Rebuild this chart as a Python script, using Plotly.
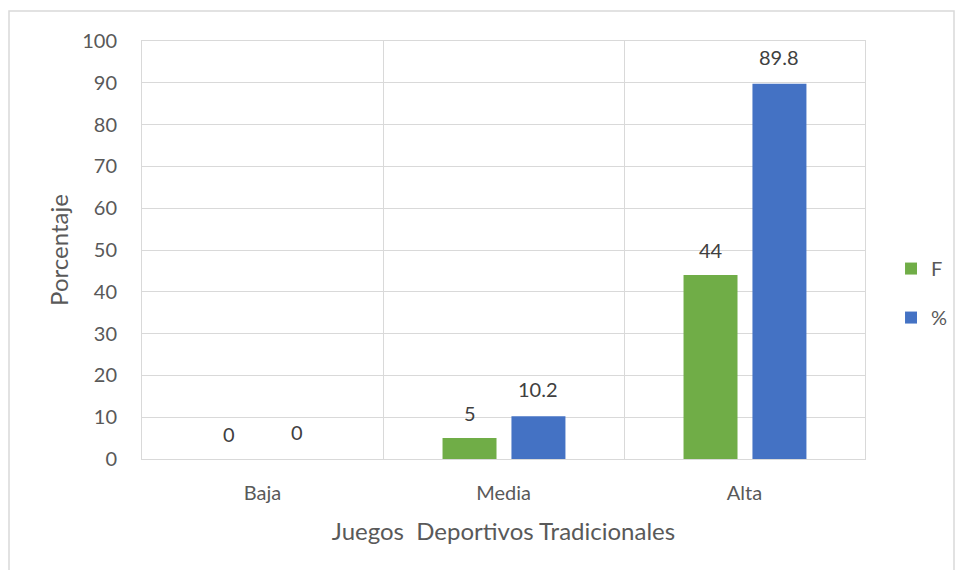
import plotly.graph_objects as go

categories = ["Baja", "Media", "Alta"]
f_values = [0, 5, 44]
pct_values = [0, 10.2, 89.8]
f_labels = ["0", "5", "44"]
pct_labels = ["0", "10.2", "89.8"]
y_ticks = list(range(0, 101, 10))

GREEN = "#70AD47"
BLUE = "#4472C4"
GRID = "#D9D9D9"
FONT = "Lato, 'Open Sans', sans-serif"

fig = go.Figure()
fig.add_trace(go.Bar(x=categories, y=f_values, name="F", marker_color=GREEN,
                     marker_line_width=0,
                     width=0.224, offset=-0.253, legendgroup="F"))
fig.add_trace(go.Bar(x=categories, y=pct_values, name="%", marker_color=BLUE,
                     marker_line_width=0,
                     width=0.224, offset=0.033, legendgroup="P"))

annotations = []
for i, c in enumerate(categories):
    annotations.append(dict(x=i - 0.253 + 0.112, y=f_values[i], xref="x", yref="y",
                            text=f_labels[i], showarrow=False, yanchor="middle",
                            yshift=25, font=dict(size=20, color="#404040", family=FONT)))
    annotations.append(dict(x=i + 0.033 + 0.112, y=pct_values[i], xref="x", yref="y",
                            text=pct_labels[i], showarrow=False, yanchor="middle",
                            yshift=27, font=dict(size=20, color="#404040", family=FONT)))

fig.update_layout(
    width=957, height=570,
    margin=dict(l=142, r=92, t=41, b=111, autoexpand=False),
    paper_bgcolor="white", plot_bgcolor="white",
    barmode="overlay",
    font=dict(family=FONT, color="#595959", size=20),
    showlegend=True,
    legend=dict(x=1.036, y=0.397, xanchor="left", yanchor="middle",
                font=dict(size=20, color="#595959", family=FONT),
                tracegroupgap=20, itemwidth=30),
    annotations=annotations,
    shapes=[dict(type="rect", xref="paper", yref="paper",
                 x0=(9 - 142) / 723, x1=(954 - 142) / 723,
                 y0=(459 - 580) / 418, y1=(459 - 11) / 418,
                 line=dict(color=GRID, width=1.5), layer="below")],
)

fig.update_xaxes(
    type="category", range=[-0.5, 2.5],
    tickson="boundaries", ticks="", showgrid=True, gridcolor=GRID, gridwidth=1,
    showline=True, linecolor=GRID, linewidth=1, mirror=True,
    tickfont=dict(size=20, color="#595959"),
    ticklabelstandoff=16,
    title=dict(text="Juegos&nbsp;&nbsp;Deportivos Tradicionales",
               font=dict(size=24, color="#595959"), standoff=20),
)
fig.update_yaxes(
    range=[0, 100], tickvals=y_ticks, showgrid=True, gridcolor=GRID, gridwidth=1,
    showline=True, linecolor=GRID, linewidth=1, mirror=True, zeroline=False,
    ticks="", tickfont=dict(size=20, color="#595959"),
    ticklabelstandoff=20,
    title=dict(text="Porcentaje", font=dict(size=24, color="#595959"), standoff=6),
)

fig.write_html("out.html")
